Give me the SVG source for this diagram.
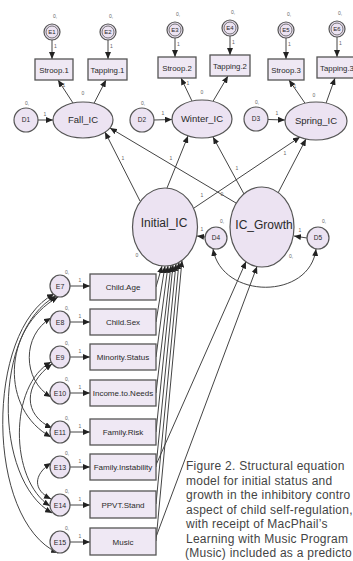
<svg xmlns="http://www.w3.org/2000/svg" width="353" height="561" viewBox="0 0 353 561">
<defs>
<marker id="ah" markerUnits="userSpaceOnUse" markerWidth="7" markerHeight="6" refX="7" refY="3" orient="auto-start-reverse"><path d="M0,0 L7,3 L0,6 z" fill="#222"/></marker>
</defs>
<style>
.n{fill:#ECE3F2;stroke:#555;stroke-width:1.2}
.r{fill:none;stroke:#555;stroke-width:0.8}
.bx{fill:#EFE8F4;stroke:#555;stroke-width:1.3}
.t{font-family:"Liberation Sans",Arial,sans-serif;fill:#2a2a2a;text-anchor:middle}
.c{stroke:#444;stroke-width:1;fill:none}
.a{marker-end:url(#ah)}
.d{marker-start:url(#ah);marker-end:url(#ah)}
.s{font-family:"Liberation Sans",Arial,sans-serif;font-size:5px;fill:#666;text-anchor:middle}
.cap{font-family:"Liberation Sans",Arial,sans-serif;font-size:12px;fill:#444;letter-spacing:0.25px}
</style>
<rect width="353" height="561" fill="#fff"/>

<g id="connectors">
<path class="c a" d="M52 40 L52 59"/>
<path class="c a" d="M108 40 L108 59"/>
<path class="c a" d="M175 38 L175 57"/>
<path class="c a" d="M230 36 L230 55"/>
<path class="c a" d="M286 38 L286 59"/>
<path class="c a" d="M337 37 L337 57"/>
<path class="c a" d="M73 103 L58 80"/>
<path class="c a" d="M94 103.3 L106 80"/>
<path class="c a" d="M192 101.1 L181 78"/>
<path class="c a" d="M213 101.3 L228 76"/>
<path class="c a" d="M305 103.2 L289 80"/>
<path class="c a" d="M326 103.3 L335 78"/>
<path class="c a" d="M38 120 L53 120"/>
<path class="c a" d="M154 120 L172 119.5"/>
<path class="c a" d="M268 119.5 L285 120"/>
<path class="c a" d="M140 201 L105 132"/>
<path class="c a" d="M236 203 L110 128"/>
<path class="c a" d="M167 188 L188 136"/>
<path class="c a" d="M244 194 L213 137"/>
<path class="c a" d="M194 208 L300 137"/>
<path class="c a" d="M278 193 L306 139"/>
<path class="c a" d="M205 237 L197 236"/>
<path class="c a" d="M307 238 L294 236"/>
<path class="c d" d="M213 249 C222 300, 310 300, 316 249"/>
<path class="c a" d="M156 287 L162 266"/>
<path class="c a" d="M156 322 L165 266"/>
<path class="c a" d="M156 357 L168 265.8"/>
<path class="c a" d="M156 393 L171 265.4"/>
<path class="c a" d="M156 432 L173 264.8"/>
<path class="c a" d="M156 467 L176 263.8"/>
<path class="c a" d="M156 504 L179 262.3"/>
<path class="c a" d="M156 541 L182 260.4"/>
<path class="c a" d="M156 465 L246 261.6"/>
<path class="c a" d="M156 537 L257 266.5"/>
<path class="c a" d="M70 286 L90 286"/>
<path class="c a" d="M70 322 L90 322"/>
<path class="c a" d="M70 357 L90 357"/>
<path class="c a" d="M70 393 L90 393"/>
<path class="c a" d="M70 432 L90 432"/>
<path class="c a" d="M70 467 L90 467"/>
<path class="c a" d="M70 505 L90 505"/>
<path class="c a" d="M70 542 L90 542"/>
<path class="c d" d="M54 294 C-15 330, -15 520, 58 553"/>
<path class="c d" d="M56 296 C-7 330, -7 480, 52 513"/>
<path class="c d" d="M58 297 C1 330, 1 410, 51 437"/>
<path class="c d" d="M51 362 C9 385, 9 480, 50 506"/>
<path class="c d" d="M51 318 C22 335, 22 380, 51 397"/>
<path class="c d" d="M52 364 C23 385, 23 415, 52 428"/>
<path class="c d" d="M51 463 C33 475, 33 490, 51 499"/>
<text class="s" x="55.5" y="48">1</text>
<text class="s" x="111.5" y="48">1</text>
<text class="s" x="178.5" y="46">1</text>
<text class="s" x="233.5" y="44">1</text>
<text class="s" x="289.5" y="46">1</text>
<text class="s" x="340.5" y="45">1</text>
<text class="s" x="64" y="87">1</text>
<text class="s" x="188" y="85">1</text>
<text class="s" x="295" y="88">1</text>
<text class="s" x="45" y="116">1</text>
<text class="s" x="163" y="115">1</text>
<text class="s" x="277" y="115">1</text>
<text class="s" x="202" y="231">1</text>
<text class="s" x="300" y="232">1</text>
<text class="s" x="123" y="160">1</text>
<text class="s" x="171" y="160">1</text>
<text class="s" x="202" y="197">1</text>
<text class="s" x="222" y="196">0</text>
<text class="s" x="237" y="170">1</text>
<text class="s" x="285" y="155">1</text>
<text class="s" x="80" y="282">1</text>
<text class="s" x="80" y="318">1</text>
<text class="s" x="80" y="353">1</text>
<text class="s" x="80" y="389">1</text>
<text class="s" x="80" y="428">1</text>
<text class="s" x="80" y="463">1</text>
<text class="s" x="80" y="501">1</text>
<text class="s" x="80" y="538">1</text>
</g>

<g id="E1"><circle class="n" cx="52" cy="32" r="8"/><circle class="r" cx="52" cy="32" r="6"/><text class="t" x="52" y="34.2" font-size="6">E1</text><text class="s" x="55" y="18">0,</text></g>
<g id="E2"><circle class="n" cx="108" cy="32" r="8"/><circle class="r" cx="108" cy="32" r="6"/><text class="t" x="108" y="34.2" font-size="6">E2</text><text class="s" x="111" y="18">0,</text></g>
<g id="E3"><circle class="n" cx="175" cy="30" r="8"/><circle class="r" cx="175" cy="30" r="6"/><text class="t" x="175" y="32.2" font-size="6">E3</text><text class="s" x="178" y="16">0,</text></g>
<g id="E4"><circle class="n" cx="230" cy="28" r="8"/><circle class="r" cx="230" cy="28" r="6"/><text class="t" x="230" y="30.2" font-size="6">E4</text><text class="s" x="233" y="14">0,</text></g>
<g id="E5"><circle class="n" cx="286" cy="30" r="8"/><circle class="r" cx="286" cy="30" r="6"/><text class="t" x="286" y="32.2" font-size="6">E5</text><text class="s" x="289" y="16">0,</text></g>
<g id="E6"><circle class="n" cx="337" cy="29" r="8"/><circle class="r" cx="337" cy="29" r="6"/><text class="t" x="337" y="31.2" font-size="6">E6</text><text class="s" x="340" y="15">0,</text></g>

<g id="Stroop1"><rect class="bx" x="35" y="59" width="38" height="21"/><text class="t" x="54" y="72.5" font-size="7.8">Stroop.1</text></g>
<g id="Tapping1"><rect class="bx" x="88" y="59" width="39" height="21"/><text class="t" x="107.5" y="72.5" font-size="7.8">Tapping.1</text></g>
<g id="Stroop2"><rect class="bx" x="158" y="57" width="38" height="21"/><text class="t" x="177" y="70.5" font-size="7.8">Stroop.2</text></g>
<g id="Tapping2"><rect class="bx" x="210" y="55" width="40" height="21"/><text class="t" x="230" y="68.5" font-size="7.8">Tapping.2</text></g>
<g id="Stroop3"><rect class="bx" x="268" y="59" width="36" height="21"/><text class="t" x="286" y="72.5" font-size="7.8">Stroop.3</text></g>
<g id="Tapping3"><rect class="bx" x="317" y="57" width="40" height="21"/><text class="t" x="337" y="70.5" font-size="7.8">Tapping.3</text></g>

<g id="D1"><circle class="n" cx="26" cy="120" r="12"/><text class="t" x="26" y="122.2" font-size="6.5">D1</text><text class="s" x="27" y="105">0,</text></g>
<g id="Fall_IC"><ellipse class="n" cx="83" cy="120" rx="30" ry="18"/><text class="t" x="83" y="123.3" font-size="9.5">Fall_IC</text><text class="s" x="83" y="95">0</text></g>
<g id="D2"><circle class="n" cx="142" cy="120" r="12"/><text class="t" x="142" y="122.2" font-size="6.5">D2</text><text class="s" x="143" y="105">0,</text></g>
<g id="Winter_IC"><ellipse class="n" cx="202" cy="119" rx="30" ry="19"/><text class="t" x="202" y="122.3" font-size="9.5">Winter_IC</text><text class="s" x="202" y="94">0</text></g>
<g id="D3"><circle class="n" cx="256" cy="119" r="12"/><text class="t" x="256" y="121.2" font-size="6.5">D3</text><text class="s" x="257" y="104">0,</text></g>
<g id="Spring_IC"><ellipse class="n" cx="316" cy="121" rx="31" ry="19"/><text class="t" x="316" y="124.3" font-size="9.5">Spring_IC</text><text class="s" x="314" y="97">0</text></g>

<g id="Initial_IC"><ellipse class="n" cx="165" cy="227" rx="32.5" ry="39"/><text class="t" x="164" y="227" font-size="12">Initial_IC</text><text class="s" x="137" y="257">0</text></g>
<g id="IC_Growth"><ellipse class="n" cx="262" cy="227" rx="32" ry="40"/><text class="t" x="264" y="229" font-size="12">IC_Growth</text><text class="s" x="291" y="258">0,</text></g>
<g id="D4"><circle class="n" cx="216" cy="238" r="11"/><text class="t" x="216" y="240.2" font-size="6.5">D4</text><text class="s" x="222" y="223">0,</text></g>
<g id="D5"><circle class="n" cx="318" cy="238" r="11"/><text class="t" x="318" y="240.2" font-size="6.5">D5</text><text class="s" x="324" y="223">0,</text></g>

<g id="E7"><ellipse class="n" cx="60" cy="286" rx="10" ry="11"/><text class="t" x="60" y="288.5" font-size="7">E7</text><text class="s" x="67" y="274">0,</text></g>
<g id="E8"><ellipse class="n" cx="60" cy="322" rx="10" ry="11"/><text class="t" x="60" y="324.5" font-size="7">E8</text><text class="s" x="67" y="310">0,</text></g>
<g id="E9"><ellipse class="n" cx="60" cy="357" rx="10" ry="11"/><text class="t" x="60" y="359.5" font-size="7">E9</text><text class="s" x="67" y="345">0,</text></g>
<g id="E10"><ellipse class="n" cx="60" cy="393" rx="10" ry="11"/><text class="t" x="60" y="395.5" font-size="7">E10</text><text class="s" x="67" y="381">0,</text></g>
<g id="E11"><ellipse class="n" cx="60" cy="432" rx="10" ry="11"/><text class="t" x="60" y="434.5" font-size="7">E11</text><text class="s" x="67" y="420">0,</text></g>
<g id="E13"><ellipse class="n" cx="60" cy="467" rx="10" ry="11"/><text class="t" x="60" y="469.5" font-size="7">E13</text><text class="s" x="67" y="455">0,</text></g>
<g id="E14"><ellipse class="n" cx="60" cy="505" rx="10" ry="11"/><text class="t" x="60" y="507.5" font-size="7">E14</text><text class="s" x="67" y="493">0,</text></g>
<g id="E15"><ellipse class="n" cx="60" cy="542" rx="10" ry="11"/><text class="t" x="60" y="544.5" font-size="7">E15</text><text class="s" x="67" y="530">0,</text></g>

<g id="ChildAge"><rect class="bx" x="90" y="274" width="66" height="26"/><text class="t" x="123" y="290" font-size="8">Child.Age</text></g>
<g id="ChildSex"><rect class="bx" x="90" y="309" width="66" height="26"/><text class="t" x="123" y="325" font-size="8">Child.Sex</text></g>
<g id="MinorityStatus"><rect class="bx" x="90" y="344" width="66" height="26"/><text class="t" x="123" y="360" font-size="8">Minority.Status</text></g>
<g id="IncomeToNeeds"><rect class="bx" x="90" y="380" width="66" height="26"/><text class="t" x="123" y="396" font-size="8">Income.to.Needs</text></g>
<g id="FamilyRisk"><rect class="bx" x="90" y="419" width="66" height="26"/><text class="t" x="123" y="435" font-size="8">Family.Risk</text></g>
<g id="FamilyInstability"><rect class="bx" x="90" y="454" width="66" height="26"/><text class="t" x="123" y="470" font-size="8">Family.Instability</text></g>
<g id="PPVTStand"><rect class="bx" x="90" y="491" width="66" height="27"/><text class="t" x="123" y="507.5" font-size="8">PPVT.Stand</text></g>
<g id="Music"><rect class="bx" x="90" y="528" width="66" height="27"/><text class="t" x="123" y="544.5" font-size="8">Music</text></g>

<g id="caption">
<text class="cap" x="186" y="470">Figure 2. Structural equation</text>
<text class="cap" x="186" y="484.5">model for  initial status and</text>
<text class="cap" x="186" y="499">growth in the inhibitory contro</text>
<text class="cap" x="186" y="513.5">aspect of child self-regulation,</text>
<text class="cap" x="186" y="528">with receipt of MacPhail’s</text>
<text class="cap" x="186" y="542.5">Learning with Music Program</text>
<text class="cap" x="185" y="557">(Music) included as a predicto</text>
</g>
</svg>
